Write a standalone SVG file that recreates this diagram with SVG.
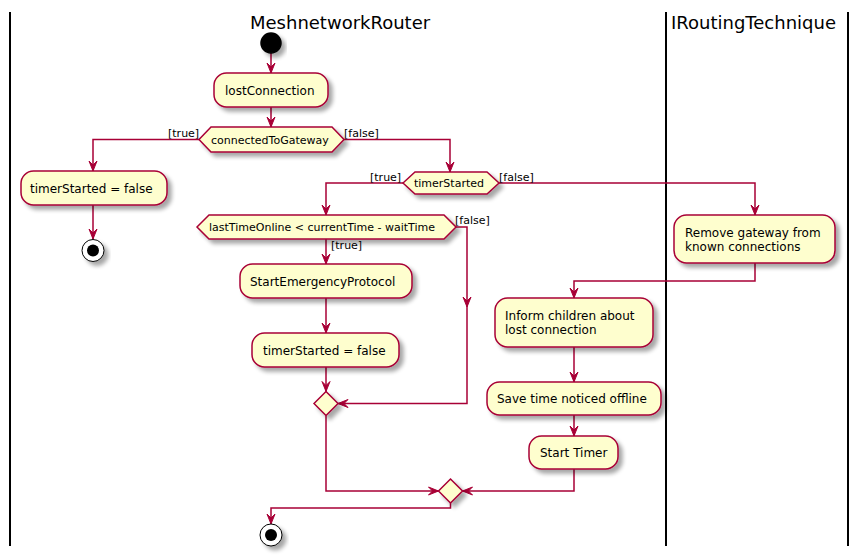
<svg xmlns="http://www.w3.org/2000/svg" width="859" height="556" viewBox="0 0 859 556">
<style>
.lane{stroke:#000;stroke-width:2;fill:none}
.title{font-family:"DejaVu Sans",sans-serif;font-size:18px;fill:#000}
.node{fill:#FEFECE;stroke:#A80036;stroke-width:1.5;filter:url(#sh)}
.t{font-family:"DejaVu Sans",sans-serif;font-size:12px;fill:#000}
.d{font-family:"DejaVu Sans",sans-serif;font-size:11px;fill:#000}
.c{fill:none;stroke:#A80036;stroke-width:1.5;marker-end:url(#ah)}
.cn{fill:none;stroke:#A80036;stroke-width:1.5}
</style>
<defs>
<filter id="sh" x="-20%" y="-20%" width="150%" height="160%">
<feGaussianBlur in="SourceAlpha" stdDeviation="2"/>
<feOffset dx="4" dy="4" result="b"/>
<feComponentTransfer><feFuncA type="linear" slope="0.35"/></feComponentTransfer>
<feMerge><feMergeNode/><feMergeNode in="SourceGraphic"/></feMerge>
</filter>
<marker id="ah" markerUnits="userSpaceOnUse" markerWidth="12" markerHeight="12" viewBox="-11 -6 12 12" refX="0" refY="0" orient="auto">
<path d="M0,0 L-10,-4 L-6,0 L-10,4 Z" fill="#A80036" stroke="#A80036" stroke-width="1"/>
</marker>
</defs>
<g id="lanes">
<line class="lane" x1="10" y1="12" x2="10" y2="546"/>
<line class="lane" x1="666" y1="12" x2="666" y2="546"/>
<line class="lane" x1="848" y1="12" x2="848" y2="546"/>
<text class="title" x="250" y="29">MeshnetworkRouter</text>
<text class="title" x="671" y="29">IRoutingTechnique</text>
</g>
<g id="connectors">
<path class="c" d="M271,53 L271,73"/>
<path class="c" d="M271,107 L271,127"/>
<path class="c" d="M199,139.5 L93,139.5 L93,171"/>
<text class="d" x="168" y="137">[true]</text>
<path class="c" d="M93,205 L93,239"/>
<path class="c" d="M344,139.5 L450,139.5 L450,172"/>
<text class="d" x="344" y="137">[false]</text>
<path class="c" d="M403,183 L326,183 L326,215"/>
<text class="d" x="370" y="181">[true]</text>
<path class="c" d="M499,183 L755,183 L755,215"/>
<text class="d" x="499" y="181">[false]</text>
<path class="c" d="M326,239 L326,264"/>
<text class="d" x="331" y="249">[true]</text>
<path class="c" d="M326,298 L326,333"/>
<path class="c" d="M326,367 L326,391.5"/>
<path class="c" d="M456,227 L467,227 L467,307"/>
<path class="c" d="M467,307 L467,403.5 L338,403.5"/>
<text class="d" x="455" y="224">[false]</text>
<path class="c" d="M326,415.5 L326,491 L438.5,491"/>
<path class="c" d="M755,263 L755,281 L574,281 L574,298"/>
<path class="c" d="M574,347 L574,382"/>
<path class="c" d="M574,415 L574,436"/>
<path class="c" d="M574,469 L574,491 L462.5,491"/>
<path class="c" d="M450.5,503 L450.5,508 L271,508 L271,524"/>
</g>
<g id="start"><circle class="node" cx="271" cy="43" r="10" style="fill:#000;stroke:#000"/></g>
<g id="lostConnection"><rect class="node" x="214" y="73" width="114" height="34" rx="12.5"/><text class="t" x="225" y="94.5">lostConnection</text></g>
<g id="connectedToGateway"><polygon class="node" points="199,139.5 211,127 332,127 344,139.5 332,152 211,152"/><text class="d" x="211" y="143.5">connectedToGateway</text></g>
<g id="timerStartedFalse1"><rect class="node" x="21" y="171" width="146" height="34" rx="12.5"/><text class="t" x="30" y="192.5">timerStarted = false</text></g>
<g id="end1"><circle class="node" cx="93" cy="250.5" r="11" style="fill:#fff;stroke:#000;stroke-width:1"/><circle cx="93" cy="250.5" r="6" fill="#000"/></g>
<g id="timerStarted"><polygon class="node" points="403,183 415,172 487,172 499,183 487,194 415,194"/><text class="d" x="414" y="187">timerStarted</text></g>
<g id="lastTimeOnline"><polygon class="node" points="197,227 209,215 444,215 456,227 444,239 209,239"/><text class="d" x="209" y="231">lastTimeOnline &lt; currentTime - waitTime</text></g>
<g id="StartEmergencyProtocol"><rect class="node" x="240" y="264" width="172" height="34" rx="12.5"/><text class="t" x="250" y="285.5">StartEmergencyProtocol</text></g>
<g id="timerStartedFalse2"><rect class="node" x="252" y="333" width="147" height="34" rx="12.5"/><text class="t" x="263" y="354.5">timerStarted = false</text></g>
<g id="merge1"><polygon class="node" points="326,391.5 338,403.5 326,415.5 314,403.5"/></g>
<g id="removeGateway"><rect class="node" x="674" y="215" width="161" height="48" rx="12.5"/><text class="t" x="685" y="237">Remove gateway from</text><text class="t" x="685" y="251">known connections</text></g>
<g id="informChildren"><rect class="node" x="495" y="298" width="158" height="49" rx="12.5"/><text class="t" x="505" y="320">Inform children about</text><text class="t" x="505" y="334">lost connection</text></g>
<g id="saveTime"><rect class="node" x="487" y="382" width="174" height="33" rx="12.5"/><text class="t" x="497" y="403">Save time noticed offline</text></g>
<g id="startTimer"><rect class="node" x="529" y="436" width="89" height="33" rx="12.5"/><text class="t" x="540" y="457">Start Timer</text></g>
<g id="merge2"><polygon class="node" points="450.5,479 462.5,491 450.5,503 438.5,491"/></g>
<g id="end2"><circle class="node" cx="271" cy="535" r="11" style="fill:#fff;stroke:#000;stroke-width:1"/><circle cx="271" cy="535" r="6" fill="#000"/></g>
</svg>
